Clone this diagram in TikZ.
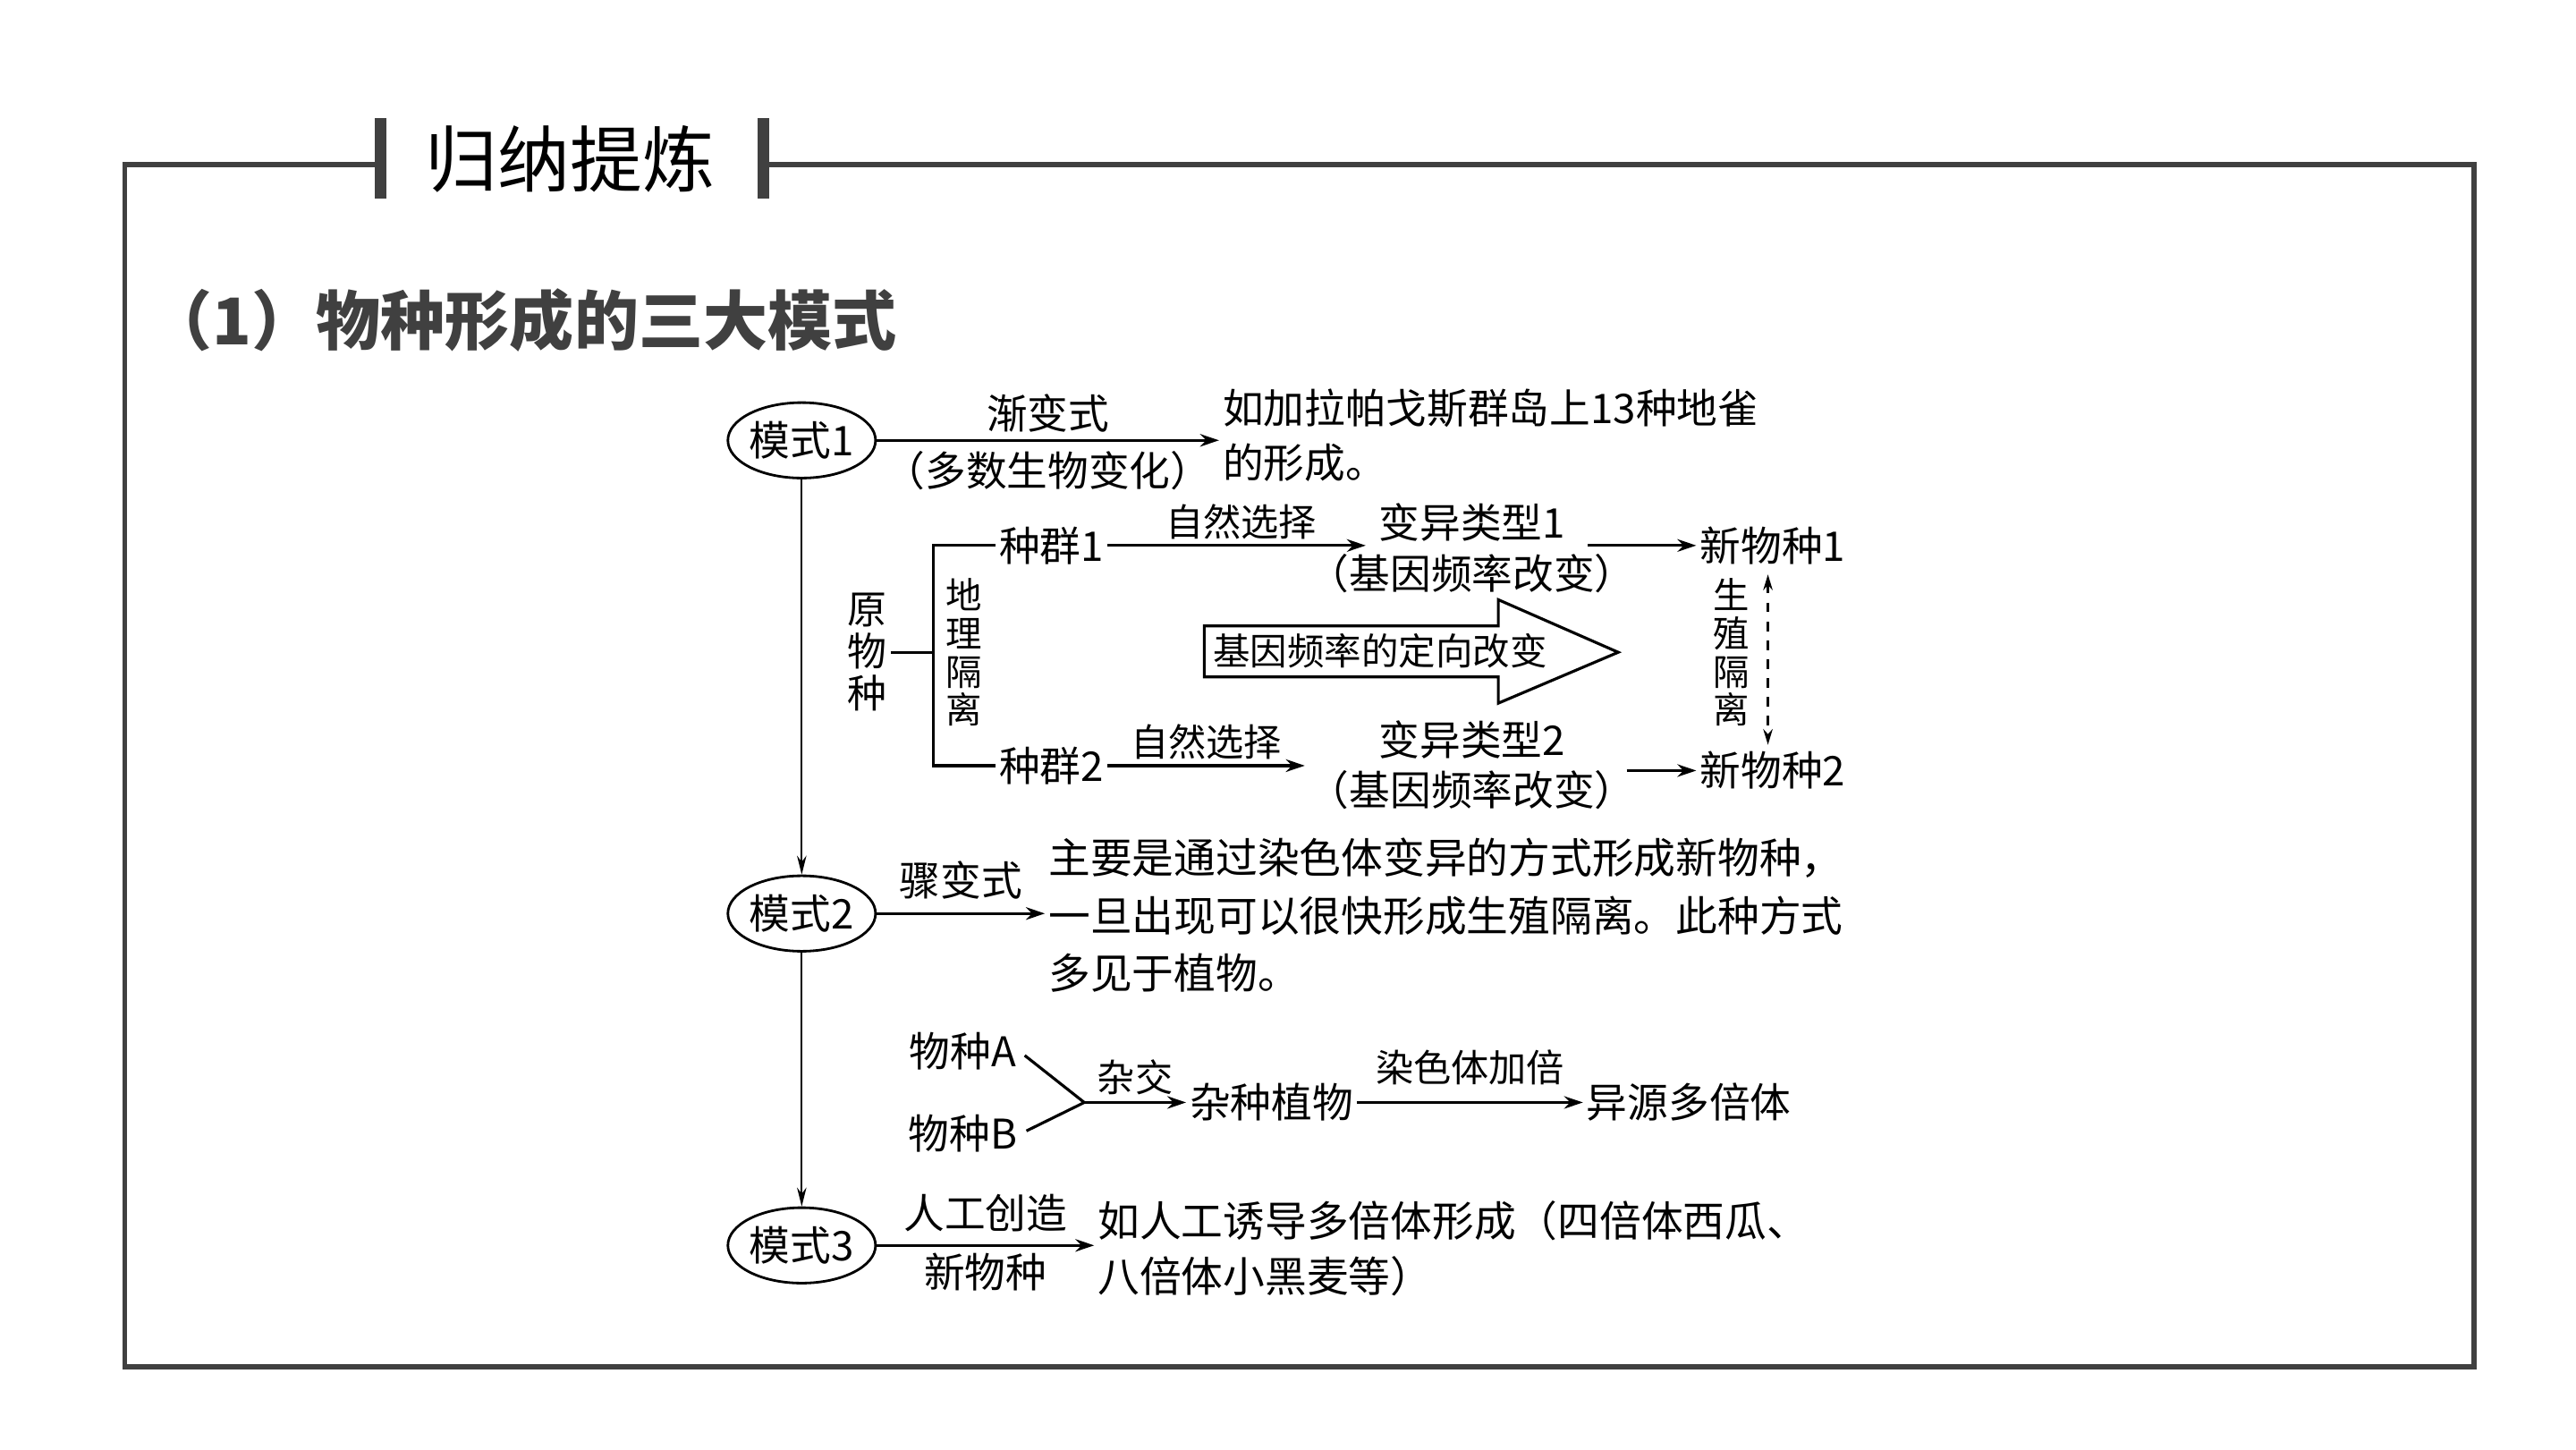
\documentclass[tikz,border=0pt]{standalone}
\usepackage{fontspec}
\setmainfont{Noto Sans CJK SC}
\usetikzlibrary{arrows.meta,shapes.geometric}
\definecolor{framegray}{HTML}{404040}

\begin{document}
\begin{tikzpicture}[x=0.18367mm,y=-0.18367mm,
  every node/.style={font=\fontsize{13}{17.5}\selectfont,inner sep=1pt},
  mode/.style={draw,ellipse,line width=0.8pt,minimum width=44pt,minimum height=24pt,inner sep=0pt},
  arr/.style={line width=0.9pt,-{Stealth[length=6pt,width=4pt]}},
  lbl/.style={font=\fontsize{12}{12}\selectfont},
  vtext/.style={align=center,font=\fontsize{11.5}{12.2}\selectfont}]
\useasboundingbox (0,0) rectangle (1568,882);
\fill[white] (0,0) rectangle (1568,882);
\draw[framegray,line width=1.6pt] (231,100) -- (76,100) -- (76,832) -- (1506,832) -- (1506,100) -- (465,100);
\fill[framegray] (228,72) rectangle (235,121);
\fill[framegray] (461,72) rectangle (468,121);
\node[font=\fontsize{23}{23}\selectfont] (gnyl) at (347,97) {归纳提炼};
\node[anchor=west,text=framegray,font=\bfseries\fontsize{20.5}{20.5}\selectfont] (sub) at (88,195) {（1）物种形成的三大模式};

\node[mode] (m1) at (488,268) {模式1};
\node[mode] (m2) at (488,556) {模式2};
\node[mode] (m3) at (488,758) {模式3};
\draw[line width=0.6pt,-{Stealth[length=6pt,width=3pt]}] (m1) -- (m2);
\draw[line width=0.6pt,-{Stealth[length=6pt,width=3pt]}] (m2) -- (m3);

\node[anchor=west,align=left] (t1) at (742,265) {如加拉帕戈斯群岛上13种地雀\\的形成。};
\draw[arr] (m1) -- (t1.west |- m1) node[midway,above=1pt] {渐变式} node[midway,below=2pt] {（多数生物变化）};

\node[vtext,font=\fontsize{12.5}{13.3}\selectfont] (yw) at (528,397) {原\\物\\种};
\node[vtext] (dl) at (587,397) {地\\理\\隔\\离};
\node (zq1) at (640,332) {种群1};
\node (zq2) at (640,466) {种群2};
\coordinate (br) at (568,397);
\draw[line width=0.9pt] (zq1.west) -| (br) |- (zq2.west);
\draw[line width=0.9pt] (yw.east) -- (br);

\node (by1) at (896,318) {变异类型1};
\node (gp1) at (896,349) {（基因频率改变）};
\node (by2) at (896,450) {变异类型2};
\node (gp2) at (896,481) {（基因频率改变）};
\draw[arr,shorten >=3pt] (zq1) -- (zq1 -| by1.west) node[lbl,midway,above=0.5pt] {自然选择};
\draw[arr] (zq2) -- (zq2 -| gp2.west) node[lbl,midway,above=0.5pt] {自然选择};

\node (xw1) at (1079,332) {新物种1};
\node (xw2) at (1079,469) {新物种2};
\draw[arr,shorten <=6pt] (by1.east |- xw1) -- (xw1);
\draw[arr,shorten <=-4pt] (gp2.east |- xw2) -- (xw2);

\draw[line width=0.9pt] (733,381) -- (912,381) -- (912,365) -- (985,397) -- (912,428) -- (912,412) -- (733,412) -- cycle;
\node[font=\fontsize{11.8}{11.8}\selectfont] (dx) at (840,396) {基因频率的定向改变};

\node[vtext] (sz) at (1054,397) {生\\殖\\隔\\离};
\draw[dashed,line width=0.7pt,{Stealth[length=5pt,width=3pt]}-{Stealth[length=5pt,width=3pt]},shorten <=2pt,shorten >=1pt] ([xshift=-1.5pt]xw1.south) -- ([xshift=-1.5pt]xw2.north);

\node[anchor=west,align=left,font=\fontsize{13.3}{18.3}\selectfont] (t2) at (636,557) {主要是通过染色体变异的方式形成新物种，\\一旦出现可以很快形成生殖隔离。此种方式\\多见于植物。};
\draw[arr] (m2) -- (t2.west |- m2) node[midway,above=3pt] {骤变式};

\node (wa) at (586,640) {物种A};
\node (wb) at (586,690) {物种B};
\coordinate (hj) at (660,671);
\node (zz) at (774,671) {杂种植物};
\node (yy) at (1028,671) {异源多倍体};
\draw[line width=0.9pt,shorten <=2pt] (wa.east) -- (hj);
\draw[line width=0.9pt,shorten <=2pt] (wb.east) -- (hj);
\draw[arr] (hj) -- (zz) node[lbl,midway,above=1pt] {杂交};
\draw[arr] (zz) -- (yy) node[lbl,midway,above=4pt] {染色体加倍};

\node[anchor=west,align=left,font=\fontsize{13.3}{17.8}\selectfont] (t3) at (666,760) {如人工诱导多倍体形成（四倍体西瓜、\\八倍体小黑麦等）};
\draw[arr] (m3) -- (t3.west |- m3) node[midway,above=3pt] {人工创造} node[midway,below=1pt] {新物种};
\end{tikzpicture}
\end{document}
